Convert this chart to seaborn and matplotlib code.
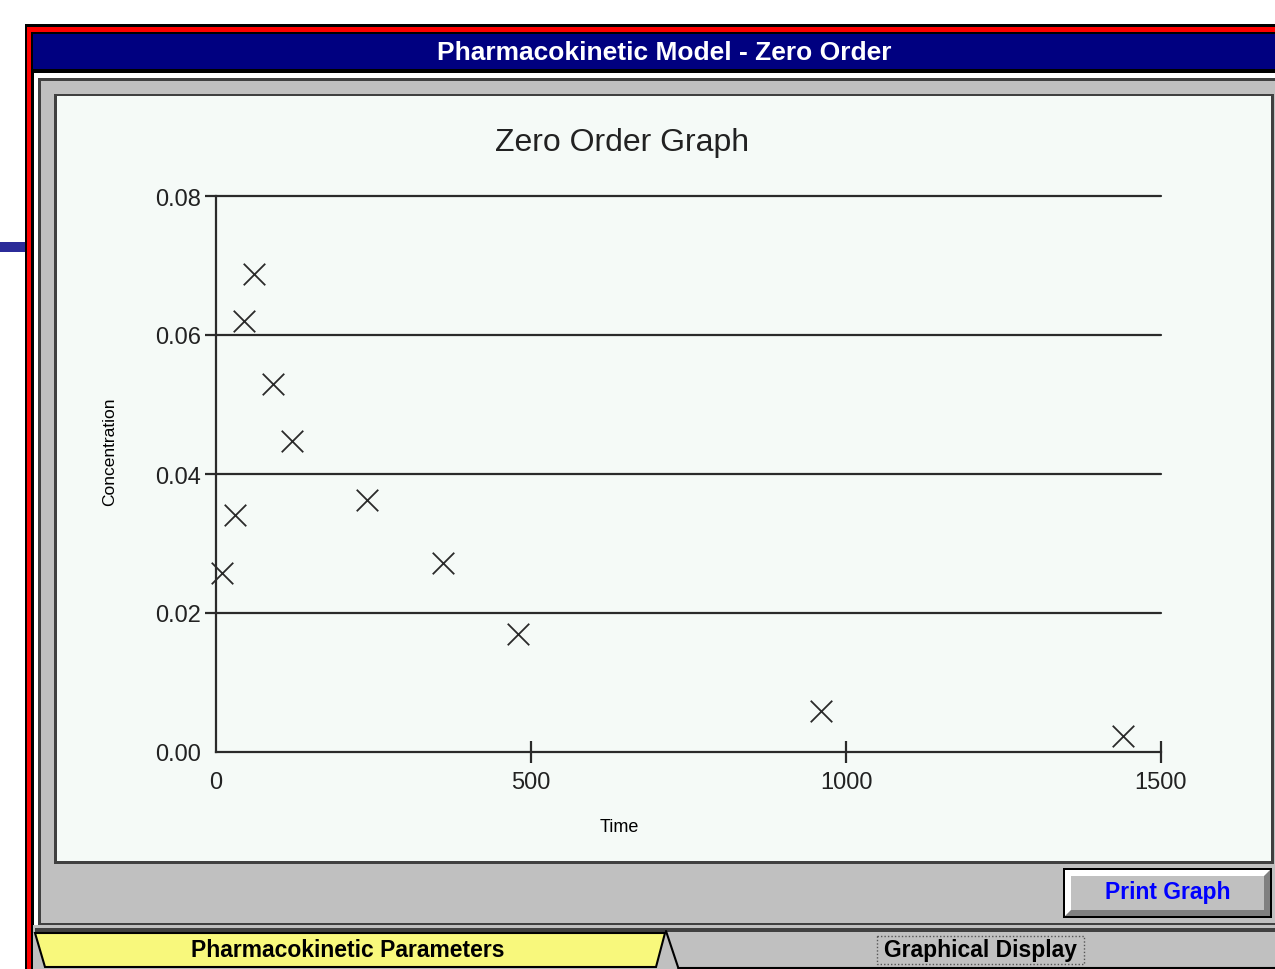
import numpy as np
import pandas as pd
import seaborn as sns
import matplotlib.pyplot as plt
from matplotlib.patches import Rectangle, Polygon

# ----- DATA -----
time_min = [10, 30, 45, 60, 90, 120, 240, 360, 480, 960, 1440]
concentration = [0.0258, 0.0341, 0.0620, 0.0688, 0.0530, 0.0447,
                 0.0363, 0.0272, 0.0170, 0.0059, 0.0023]
x_ticks = [0, 500, 1000, 1500]
y_ticks = [0.00, 0.02, 0.04, 0.06, 0.08]
y_tick_labels = ["0.00", "0.02", "0.04", "0.06", "0.08"]

df = pd.DataFrame({"Time": time_min, "Concentration": concentration})

# ----- STYLE -----
sns.set_style("white")
plt.rcParams['font.family'] = ['Liberation Sans', 'DejaVu Sans']

INK = "#2A2A2A"
CHART_BG = "#F5FAF7"
PANEL = "#C0C0C0"
W, H = 1275, 970

fig = plt.figure(figsize=(12.75, 9.7), dpi=100)
fig.patch.set_facecolor("white")

# ----- WINDOW CHROME (pixel coords) -----
bg = fig.add_axes([0, 0, 1, 1])
bg.set_xlim(0, W)
bg.set_ylim(H, 0)
bg.axis('off')


def box(x0, y0, x1, y1, color, **kw):
    bg.add_patch(Rectangle((x0, y0), x1 - x0, y1 - y0, facecolor=color,
                           edgecolor='none', **kw))


box(0, 243, 25, 253, "#2B2B99")          # stray line on the left
box(25, 25, W, H, "black")
box(27, 28, W, H, "#FF0000")
box(31, 33, W, H, "black")
box(33, 35, W, 70, "#000080")            # title bar
box(34, 74, W, 926, "white")
box(38, 79, W, 926, "#404040")
box(41, 82, W, 924, PANEL)

# chart frame
box(54, 95, 1274, 865, "#404040")
box(57, 97, 1271, 862, CHART_BG)

# tab strip at the bottom
box(33, 926, W, H, PANEL)
box(35, 929, W, 933, "#404040")
bg.add_patch(Polygon([(35, 934), (665, 934), (656, 968), (45, 968)],
                     closed=True, facecolor="#F8F87C", edgecolor="black", lw=1.5))
bg.plot([666, 678], [932, 968], color="black", lw=1.5)
bg.plot([678, W], [968.5, 968.5], color="black", lw=1.5)
bg.add_patch(Rectangle((877, 937), 207, 28, facecolor='none',
                       edgecolor="#555555", lw=1, linestyle=(0, (1, 1.5))))

# print button
box(1063, 869, 1272, 919, "black")
box(1065, 871, 1270, 917, "#808080")
bg.add_patch(Polygon([(1065, 871), (1270, 871), (1264, 877), (1071, 877),
                      (1071, 911), (1065, 917)], closed=True,
                     facecolor="white", edgecolor='none'))
box(1071, 877, 1264, 911, PANEL)

# chrome texts
bg.text(664, 53, "Pharmacokinetic Model - Zero Order", color="white",
        fontsize=19, fontweight="bold", ha="center", va="center")
bg.text(1168, 893, "Print Graph", color="#0000FF", fontsize=16.5,
        fontweight="bold", ha="center", va="center")
bg.text(348, 951, "Pharmacokinetic Parameters", color="black", fontsize=16.5,
        fontweight="bold", ha="center", va="center")
bg.text(980, 951, "Graphical Display", color="black", fontsize=16.5,
        fontweight="bold", ha="center", va="center")

# ----- CHART -----
ax = fig.add_axes([216 / W, (H - 753) / H, 945 / W, 556 / H])
ax.set_facecolor("none")

sns.scatterplot(data=df, x="Time", y="Concentration", marker="x", s=240,
                color=INK, linewidth=1.3, ax=ax, clip_on=False, zorder=5)

ax.set_xlim(0, 1500)
ax.set_ylim(0, 0.08)
ax.set_xticks(x_ticks)
ax.set_yticks(y_ticks)
ax.set_yticklabels(y_tick_labels)

for t in y_ticks[1:]:
    ax.axhline(t, color=INK, lw=1.6, zorder=1, clip_on=False)

for s in ["top", "right"]:
    ax.spines[s].set_visible(False)
for s in ["left", "bottom"]:
    ax.spines[s].set_color(INK)
    ax.spines[s].set_linewidth(1.6)

ax.tick_params(axis="x", bottom=True, direction="inout", length=16, width=1.6,
               color=INK, labelsize=17, labelcolor="#222222", pad=6)
ax.tick_params(axis="y", left=True, direction="out", length=8, width=1.6,
               color=INK, labelsize=17, labelcolor="#222222", pad=3)
ax.xaxis.get_major_ticks()[0].tick1line.set_visible(False)
ax.yaxis.get_major_ticks()[0].tick1line.set_visible(False)

ax.set_title("Zero Order Graph", fontsize=23, color="#222222",
             x=(622 - 216) / 945, pad=33)
ax.set_xlabel("Time", fontsize=13, color="black")
ax.set_ylabel("Concentration", fontsize=12.5, color="black")
ax.xaxis.set_label_coords((619 - 216) / 945, (753 - 819) / 556)
ax.yaxis.set_label_coords((117 - 216) / 945, (753 - 452) / 556)

fig.savefig("out.png", dpi=100)
